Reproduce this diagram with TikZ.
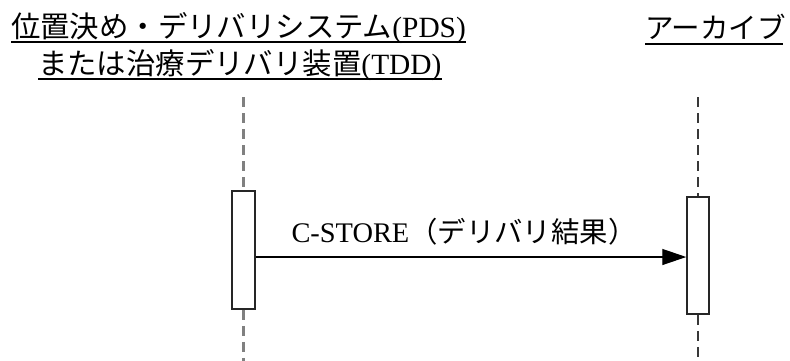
\documentclass[tikz,border=0pt]{standalone}
\usepackage{fontspec}
\setmainfont{Liberation Serif}
\newfontfamily\cjk{Noto Sans CJK JP}
\usetikzlibrary{arrows.meta}
\begin{document}
\begin{tikzpicture}[x=1bp,y=-1bp,
  title/.style={font=\fontsize{29.5}{30}\selectfont, inner sep=0pt, anchor=base west},
  uline/.style={line width=1.6bp},
  act/.style={draw=black!85, line width=1.5bp, fill=white, minimum width=23bp, inner sep=0pt},
  life/.style={line width=2.6bp, dash pattern=on 10bp off 6bp},
  msg/.style={line width=1.3bp, -{Triangle[length=24bp,width=16bp]}},
  lbl/.style={font=\fontsize{28.5}{30}\selectfont, inner sep=0pt, anchor=base}]
\useasboundingbox (0,0) rectangle (790,360);
% titles
\node[title] (t1) at (11,37) {{\cjk 位置決め・デリバリシステム}(PDS)};
\node[title] (t2) at (38,74) {{\cjk または治療デリバリ装置}(TDD)};
\node[title, font=\fontsize{28.6}{30}\selectfont] (t3) at (645,38) {{\cjk アーカイブ}};
\draw[uline] ([yshift=-5bp]t1.base west) -- ([yshift=-5bp]t1.base east);
\draw[uline] ([yshift=-5bp]t2.base west) -- ([yshift=-5bp]t2.base east);
\draw[uline] ([yshift=-6bp]t3.base west) -- ([yshift=-6bp,xshift=-3bp]t3.base east);
% activation boxes
\node[act, minimum height=118bp] (La) at (243.5,250) {};
\node[act, minimum height=117bp, minimum width=22bp] (Ra) at (698,255.5) {};
% lifelines
\coordinate (Ltop) at (243.5,97);
\coordinate (Lbot) at (243.5,362);
\coordinate (Rtop) at (698,97);
\coordinate (Rbot) at (698,362);
\draw[life, black!50] (Ltop) -- (La.north);
\draw[life, black!50] (La.south) -- (Lbot);
\draw[life, black!78] (Rtop) -- (Ra.north);
\draw[life, black!78] (Ra.south) -- (Rbot);
% message
\draw[msg] (La.east |- 0,257) -- (Ra.west |- 0,257);
\node[lbl] (m1) at (464,242) {C-STORE{\cjk （デリバリ結果）}};
\end{tikzpicture}
\end{document}
